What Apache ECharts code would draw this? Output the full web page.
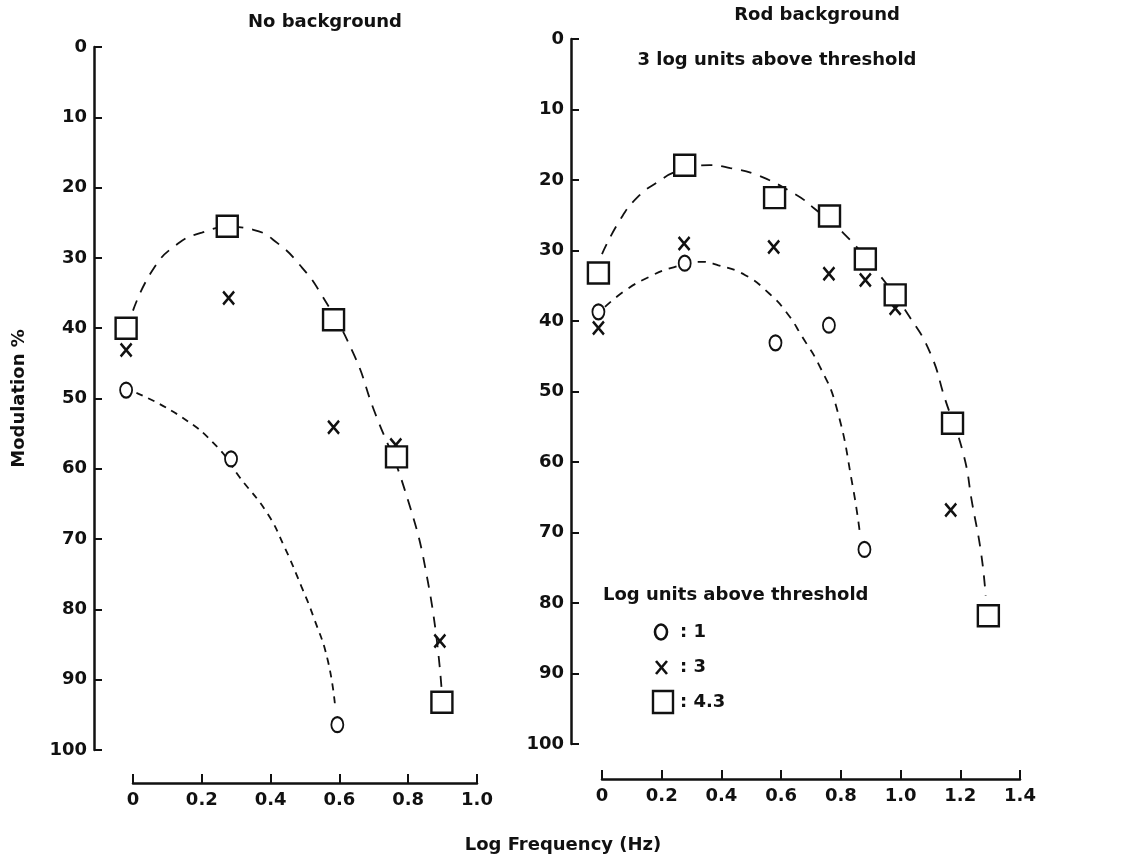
<!DOCTYPE html>
<html>
<head>
<meta charset="utf-8">
<script src="https://cdn.jsdelivr.net/npm/echarts@6/dist/echarts.min.js"></script>
<style>
  html, body { margin: 0; padding: 0; background: #fff; }
  #chart { width: 1126px; height: 861px; }
</style>
</head>
<body>
<div id="chart"></div>
<script>
// ticks
const leftXTicks = [0, 0.2, 0.4, 0.6, 0.8, 1.0];
const rightXTicks = [0, 0.2, 0.4, 0.6, 0.8, 1.0, 1.2, 1.4];
const yTicks = [0, 10, 20, 30, 40, 50, 60, 70, 80, 90, 100];
const levels = ["1", "3", "4.3"]; // log units above threshold

// No background panel  [log frequency, modulation %]
const noBgCircle = [[-0.02, 48.8], [0.285, 58.6], [0.594, 96.4]];
const noBgCross = [[-0.02, 43.1], [0.278, 35.7], [0.583, 54.1], [0.764, 56.6], [0.892, 84.5]];
const noBgSquare = [[-0.02, 40.0], [0.274, 25.5], [0.583, 38.8], [0.766, 58.3], [0.898, 93.2]];
// hand-drawn dashed curves
const noBgCircleFit = [[0.01, 49.2], [0.14, 52.6], [0.245, 56.9], [0.31, 61.2], [0.39, 66.3], [0.44, 71.1],
  [0.49, 76.8], [0.525, 81.1], [0.566, 87.2], [0.588, 94.0]];
const noBgSquareFit = [[0.0, 37.5], [0.06, 31.5], [0.13, 28.0], [0.2, 26.4], [0.28, 25.6], [0.35, 26.0],
  [0.42, 27.9], [0.49, 31.3], [0.545, 35.0], [0.64, 43.5], [0.70, 51.6], [0.79, 63.0], [0.86, 76.8], [0.897, 91.3]];

// Rod background panel
const rodCircle = [[-0.012, 38.7], [0.277, 31.8], [0.581, 43.1], [0.76, 40.6], [0.879, 72.4]];
const rodCross = [[-0.012, 41.0], [0.275, 29.0], [0.575, 29.5], [0.76, 33.3], [0.882, 34.2], [0.982, 38.2], [1.168, 66.8]];
const rodSquare = [[-0.012, 33.2], [0.277, 17.9], [0.578, 22.5], [0.762, 25.1], [0.882, 31.2], [0.982, 36.3], [1.174, 54.5], [1.294, 81.8]];
const rodCircleFit = [[0.01, 38.0], [0.08, 35.6], [0.16, 33.7], [0.23, 32.5], [0.33, 31.6], [0.39, 32.1], [0.48, 33.5],
  [0.56, 36.1], [0.62, 38.9], [0.67, 42.2], [0.73, 46.5], [0.785, 52.2], [0.84, 63.5], [0.865, 70.5]];
const rodSquareFit = [[0.0, 30.5], [0.06, 25.7], [0.12, 22.4], [0.19, 20.2], [0.25, 18.8], [0.36, 17.9], [0.43, 18.3],
  [0.52, 19.3], [0.65, 22.1], [0.71, 24.0], [0.81, 27.6], [0.93, 33.5], [1.03, 39.4], [1.10, 44.6], [1.15, 51.2],
  [1.21, 58.8], [1.24, 65.9], [1.27, 73.0], [1.285, 79.0]];

const INK = "#111";
const FONT = "DejaVu Sans";
const FS = 18;

const el = document.getElementById("chart");
const chart = echarts.init(el, null, { renderer: "canvas" });

function xAxis(gridIndex, ticks, offset) {
  return {
    type: "value", gridIndex,
    min: ticks[0], max: ticks[ticks.length - 1], interval: 0.2,
    position: "bottom", offset,
    axisLine: { onZero: false, lineStyle: { color: INK, width: 2.5 } },
    axisTick: { inside: true, length: 9, lineStyle: { color: INK, width: 2 } },
    splitLine: { show: false },
    axisLabel: {
      color: INK, fontFamily: FONT, fontWeight: "bold", fontSize: FS, margin: 8,
      formatter: v => (v === 0 ? "0" : v.toFixed(1))
    }
  };
}

function yAxis(gridIndex, offset, name) {
  return {
    type: "value", gridIndex, inverse: true,
    min: yTicks[0], max: yTicks[yTicks.length - 1], interval: 10,
    position: "left", offset,
    name: name || "", nameLocation: "middle", nameGap: 66, nameRotate: 90,
    nameTextStyle: { color: INK, fontFamily: FONT, fontWeight: "bold", fontSize: FS },
    axisLine: { onZero: false, lineStyle: { color: INK, width: 2.5 } },
    axisTick: { inside: true, length: 8, lineStyle: { color: INK, width: 2 } },
    splitLine: { show: false },
    axisLabel: { color: INK, fontFamily: FONT, fontWeight: "bold", fontSize: FS, margin: 7 }
  };
}

const circleMark = { symbol: "emptyCircle", symbolSize: [12, 15], itemStyle: { opacity: 1, color: INK, borderColor: INK, borderWidth: 2.6 } };
const crossMark = { symbol: "path://M0,0L10,12M10,0L0,12", symbolSize: [11, 13], itemStyle: { opacity: 1, color: INK, borderColor: INK, borderWidth: 2.6 } };
const squareMark = { symbol: "rect", symbolSize: 21, itemStyle: { opacity: 1, color: "#fff", borderColor: INK, borderWidth: 2.4 } };
const marks = [circleMark, crossMark, squareMark];

function fitSeries(idx, data, dash) {
  return {
    type: "line", xAxisIndex: idx, yAxisIndex: idx, data, smooth: 0.5,
    showSymbol: false, clip: false, silent: true, z: 1,
    lineStyle: { color: INK, width: 1.8, type: dash }
  };
}

function markSeries(idx, data, k) {
  return Object.assign({
    type: "scatter", name: levels[k], xAxisIndex: idx, yAxisIndex: idx, data, clip: false, z: 3
  }, marks[k]);
}

const txt = (x, y, text, align) => ({
  type: "text", x, y,
  style: { text, fill: INK, font: "bold " + FS + "px " + FONT, textAlign: align || "center", textVerticalAlign: "middle" }
});

const option = {
  animation: false,
  backgroundColor: "#fff",
  grid: [
    { left: 133, top: 47, width: 344, height: 703 },
    { left: 602, top: 39, width: 418, height: 705 }
  ],
  xAxis: [xAxis(0, leftXTicks, 33), xAxis(1, rightXTicks, 35)],
  yAxis: [yAxis(0, 39, "Modulation %"), yAxis(1, 31)],
  series: [
    fitSeries(0, noBgSquareFit, [11, 9]),
    fitSeries(0, noBgCircleFit, [7, 6]),
    markSeries(0, noBgCircle, 0),
    markSeries(0, noBgCross, 1),
    markSeries(0, noBgSquare, 2),
    fitSeries(1, rodSquareFit, [11, 9]),
    fitSeries(1, rodCircleFit, [8, 7]),
    markSeries(1, rodCircle, 0),
    markSeries(1, rodCross, 1),
    markSeries(1, rodSquare, 2)
  ],
  graphic: [
    txt(325, 22, "No background"),
    txt(817, 15, "Rod background"),
    txt(777, 60, "3 log units above threshold"),
    txt(563, 845, "Log Frequency (Hz)"),
    // key
    txt(603, 595, "Log units above threshold", "left"),
    { type: "ellipse", shape: { cx: 661, cy: 632, rx: 6, ry: 7.5 }, style: { fill: "#fff", stroke: INK, lineWidth: 2.6 } },
    { type: "polyline", shape: { points: [[656, 661], [667, 674]] }, style: { stroke: INK, lineWidth: 2.6 } },
    { type: "polyline", shape: { points: [[667, 661], [656, 674]] }, style: { stroke: INK, lineWidth: 2.6 } },
    { type: "rect", shape: { x: 653, y: 691, width: 20, height: 22 }, style: { fill: "#fff", stroke: INK, lineWidth: 2.4 } },
    txt(680, 632, ": " + levels[0], "left"),
    txt(680, 667, ": " + levels[1], "left"),
    txt(680, 702, ": " + levels[2], "left")
  ]
};

chart.setOption(option);
</script>
</body>
</html>
